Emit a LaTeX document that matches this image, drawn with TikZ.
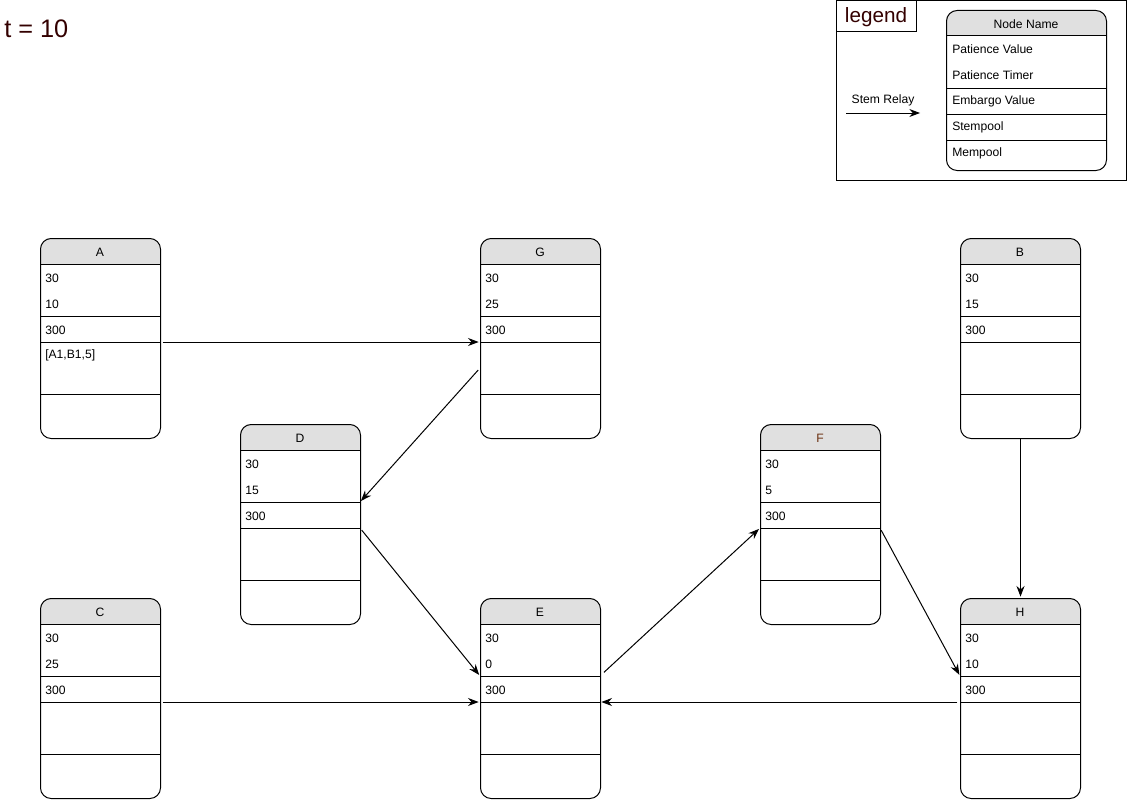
\documentclass[tikz,border=0pt]{standalone}
\usepackage{fontspec}
\setmainfont{Liberation Sans}
\usetikzlibrary{arrows.meta}

\definecolor{headfill}{HTML}{E0E0E0}
\definecolor{titlecol}{HTML}{330000}

% one peer box: name, left, top, title, patience value, patience timer, embargo, stempool
\newcommand{\drawpeer}[8]{%
  \begin{scope}
    \clip[rounded corners=8] (#2,#3) rectangle ++(120,200);
    \fill[headfill] (#2,#3) rectangle ++(120,26);
  \end{scope}
  \node[peer] (#1) at (#2,#3) {};
  \draw[row] (#2,#3+26) -- ++(120,0);
  \draw[row] (#2,#3+78) -- ++(120,0);
  \draw[row] (#2,#3+104) -- ++(120,0);
  \draw[row] (#2,#3+156) -- ++(120,0);
  \node[title] at (#2+60,#3+14) {#4};
  \node[field] at (#2+5,#3+40) {#5};
  \node[field] at (#2+5,#3+66) {#6};
  \node[field] at (#2+5,#3+92) {#7};
  \node[field] at (#2+5,#3+117) {#8};
  % ports on the box edges
  \coordinate (#1-l1) at (#2,#3+78);
  \coordinate (#1-r1) at (#2+120,#3+78);
  \coordinate (#1-l2) at (#2,#3+104);
  \coordinate (#1-r2) at (#2+120,#3+104);
  \coordinate (#1-l3) at (#2,#3+130);
}

\begin{document}
\begin{tikzpicture}[
  x=0.75pt, y=-0.75pt,
  font=\fontsize{9.1}{11}\selectfont,
  peer/.style={draw, line width=0.75pt, rounded corners=8, anchor=north west,
    minimum width=90pt, minimum height=150pt, inner sep=0pt},
  row/.style={line width=0.75pt},
  title/.style={inner sep=0pt},
  field/.style={anchor=west, inner sep=0pt},
  relay/.style={-{Stealth[length=8pt, width=6pt]}, line width=0.75pt,
    shorten <=2pt, shorten >=1pt}
]
\useasboundingbox (0,0) rectangle (1127,799);

\node[anchor=west, inner sep=0pt, text=titlecol, font=\fontsize{19}{21}\selectfont]
  (clock) at (4,29) {t = 10};

% Legend.
\node[draw, line width=0.75pt, anchor=north west, minimum width=217.5pt,
  minimum height=135pt, inner sep=0pt] (legend) at (836,0) {};
\node[draw, line width=0.75pt, anchor=north west, minimum width=60pt,
  minimum height=23.25pt, inner sep=0pt] (legendtag) at (836,0) {};
\node[text=titlecol, font=\fontsize{15.5}{17}\selectfont, inner sep=0pt]
  (legendtext) at (876,17.5) {legend};
\begin{scope}
  \clip[rounded corners=8] (946,10) rectangle ++(160,160);
  \fill[headfill] (946,10) rectangle ++(160,26);
\end{scope}
\node[peer, minimum width=120pt, minimum height=120pt] (key) at (946,10) {};
\draw[row] (946,36) -- ++(160,0);
\draw[row] (946,88) -- ++(160,0);
\draw[row] (946,114) -- ++(160,0);
\draw[row] (946,140) -- ++(160,0);
\node[title] at (1026,24) {Node Name};
\node[field] at (952,49) {Patience Value};
\node[field] at (952,75) {Patience Timer};
\node[field] at (952,101) {Embargo Value};
\node[field] at (952,127) {Stempool};
\node[field] at (952,153) {Mempool};
\coordinate (keyfrom) at (846,113);
\coordinate (keyto) at (920,113);
\draw[relay, shorten <=0pt, shorten >=0pt] (keyfrom) -- node[above=5pt, inner sep=0pt] {Stem Relay} (keyto);

% Peers.
\drawpeer{A}{40}{238}{A}{30}{10}{300}{[A1,B1,5]}
\drawpeer{G}{480}{238}{G}{30}{25}{300}{}
\drawpeer{B}{960}{238}{B}{30}{15}{300}{}
\drawpeer{D}{240}{424}{D}{30}{15}{300}{}
\drawpeer{F}{760}{424}{\textcolor[HTML]{6B3010}{F}}{30}{5}{300}{}
\drawpeer{C}{40}{598}{C}{30}{25}{300}{}
\drawpeer{E}{480}{598}{E}{30}{0}{300}{}
\drawpeer{H}{960}{598}{H}{30}{10}{300}{}

% Stem relays.
\draw[relay] (A-r2) -- (G-l2);
\draw[relay] (G-l3) -- (D-r1);
\draw[relay] (D-r2) -- (E-l1);
\draw[relay] (C-r2) -- (E-l2);
\draw[relay, shorten <=4pt] (E-r1) -- (F-l2);
\draw[relay] (F-r2) -- (H-l1);
\draw[relay] (H-l2) -- (E-r2);
\draw[relay, shorten <=0pt] (B.south) -- (H.north);

\end{tikzpicture}
\end{document}
